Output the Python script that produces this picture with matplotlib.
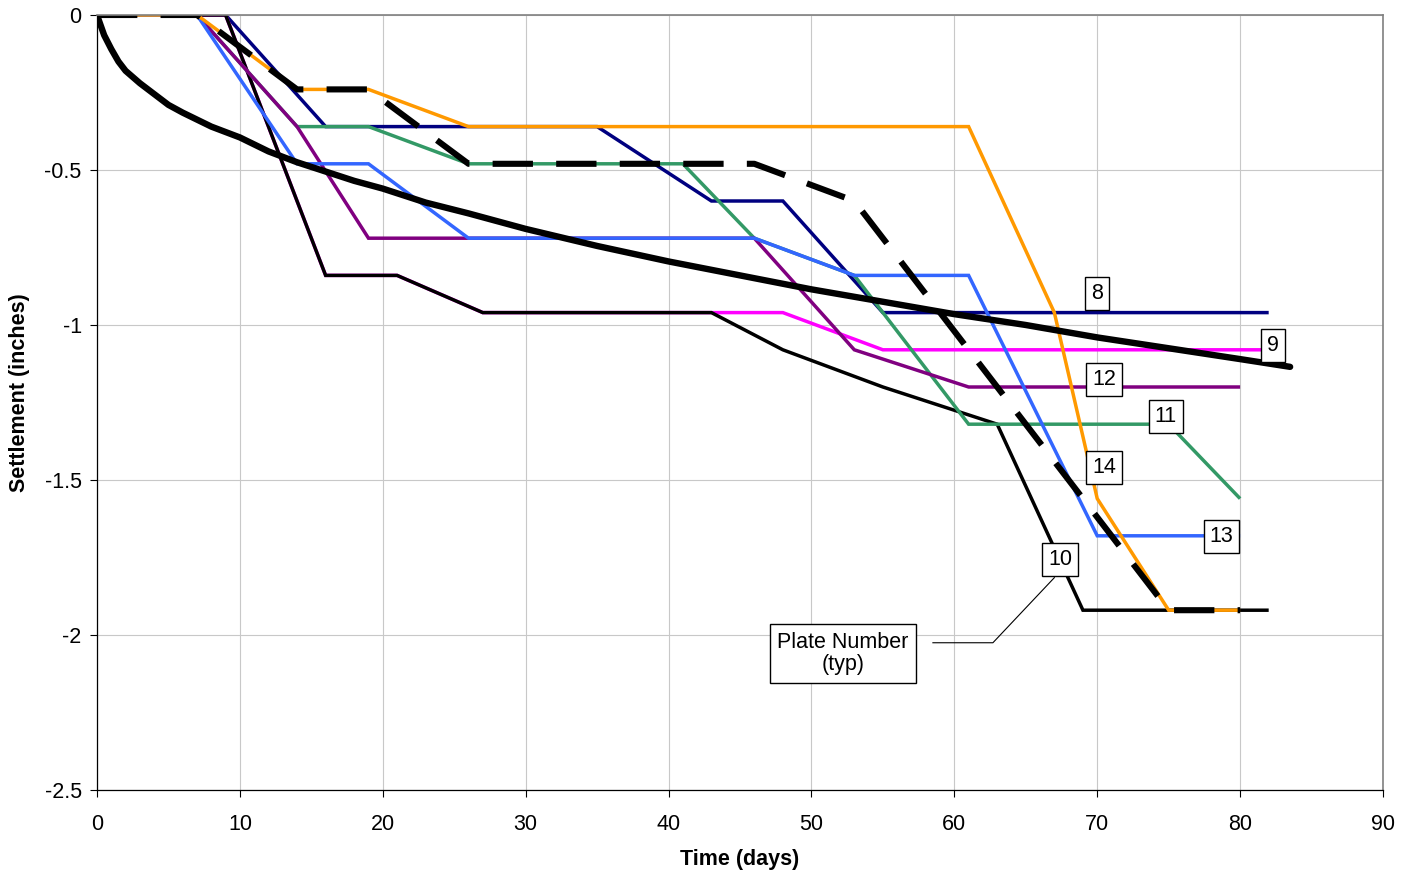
import matplotlib
matplotlib.use("Agg")
import matplotlib.pyplot as plt

# settlement plate readings (inches)
days_8 = [0, 9, 16, 35, 43, 48, 55, 82]
settle_8 = [0, 0, -0.36, -0.36, -0.60, -0.60, -0.96, -0.96]

days_9 = [0, 9, 16, 21, 27, 43, 48, 55, 82]
settle_9 = [0, 0, -0.84, -0.84, -0.96, -0.96, -0.96, -1.08, -1.08]

days_10 = [0, 9, 16, 21, 27, 43, 48, 55, 61, 63, 69, 82]
settle_10 = [0, 0, -0.84, -0.84, -0.96, -0.96, -1.08, -1.20, -1.29, -1.32, -1.92, -1.92]

days_11 = [0, 7, 14, 19, 26, 41, 46, 53, 61, 75, 80]
settle_11 = [0, 0, -0.36, -0.36, -0.48, -0.48, -0.72, -0.84, -1.32, -1.32, -1.56]

days_12 = [0, 7, 14, 19, 46, 53, 61, 80]
settle_12 = [0, 0, -0.36, -0.72, -0.72, -1.08, -1.20, -1.20]

days_13 = [0, 7, 14, 19, 26, 46, 53, 61, 70, 80]
settle_13 = [0, 0, -0.48, -0.48, -0.72, -0.72, -0.84, -0.84, -1.68, -1.68]

days_14 = [0, 7, 14, 19, 26, 61, 67, 70, 75, 80]
settle_14 = [0, 0, -0.24, -0.24, -0.36, -0.36, -0.96, -1.56, -1.92, -1.92]

days_dash = [0, 7, 14, 19, 26, 46, 53, 75, 80]
settle_dash = [0, 0, -0.24, -0.24, -0.48, -0.48, -0.60, -1.92, -1.92]

days_curve = [0, 0.5, 1, 1.5, 2, 3, 4, 5, 6, 8, 10, 12, 14, 16, 18, 20, 23, 26,
              30, 35, 40, 45, 50, 55, 60, 65, 70, 75, 80, 83.5]
settle_curve = [0, -0.065, -0.11, -0.15, -0.18, -0.22, -0.255, -0.29, -0.315,
                -0.36, -0.395, -0.44, -0.475, -0.505, -0.535, -0.56, -0.605,
                -0.64, -0.69, -0.745, -0.795, -0.84, -0.885, -0.925, -0.965,
                -1.0, -1.04, -1.075, -1.11, -1.135]

plate_names = ["8", "9", "10", "11", "12", "13", "14"]
x_ticks = [0, 10, 20, 30, 40, 50, 60, 70, 80, 90]
y_ticks = [0, -0.5, -1, -1.5, -2, -2.5]
y_tick_labels = ["0", "-0.5", "-1", "-1.5", "-2", "-2.5"]


def _main():
    plt.rcParams['font.family'] = ['Liberation Sans', 'DejaVu Sans']
    plt.rcParams['axes.unicode_minus'] = False
    FONT_SIZE = 15.5

    fig = plt.figure(figsize=(14.13, 8.73), dpi=100)
    ax = fig.add_axes([97 / 1413, 83 / 873, 1286 / 1413, 775 / 873])

    plates = [
        (days_8, settle_8, "#000080"),
        (days_9, settle_9, "#FF00FF"),
        (days_10, settle_10, "black"),
        (days_11, settle_11, "#339966"),
        (days_12, settle_12, "#800080"),
        (days_13, settle_13, "#3366FF"),
        (days_14, settle_14, "#FF9900"),
    ]
    for days, settle, color in plates:
        ax.plot(days, settle, color=color, lw=2.5, solid_capstyle='butt',
                solid_joinstyle='miter')

    ax.plot(days_dash, settle_dash, color="black", lw=4.4,
            dashes=(6.6, 3.8), dash_capstyle='butt')
    ax.plot(days_curve, settle_curve, color="black", lw=4.6,
            solid_capstyle='round')

    # plate number tags
    tag_spots = [(70.0, -0.897), (82.3, -1.065), (67.4, -1.755), (74.8, -1.296),
                 (70.5, -1.177), (78.7, -1.683), (70.5, -1.46)]
    box = dict(boxstyle='square,pad=0.28', fc='white', ec='black', lw=1.0)
    for name, (x, y) in zip(plate_names, tag_spots):
        ax.text(x, y, name, ha='center', va='center', fontsize=FONT_SIZE,
                bbox=box, zorder=5)

    ax.plot([58.5, 62.7, 67.0], [-2.025, -2.025, -1.815], color='black',
            lw=0.8, zorder=4)
    ax.text(52.2, -2.06, "Plate Number\n(typ)", ha='center', va='center',
            multialignment='center', fontsize=FONT_SIZE, linespacing=1.1,
            bbox=dict(boxstyle='square,pad=0.35', fc='white', ec='black',
                      lw=1.0), zorder=5)

    ax.set_xlim(0, 90)
    ax.set_ylim(-2.5, 0)
    ax.set_xticks(x_ticks)
    ax.set_yticks(y_ticks)
    ax.set_yticklabels(y_tick_labels)
    ax.tick_params(axis='both', direction='out', length=5, width=0.8,
                   labelsize=FONT_SIZE, color='black')
    ax.tick_params(axis='x', pad=12)
    ax.tick_params(axis='y', pad=6)
    ax.grid(True, color='#c8c8c8', lw=0.8)
    ax.set_axisbelow(True)

    for side in ('top', 'right'):
        ax.spines[side].set_color('#808080')
        ax.spines[side].set_linewidth(1.2)
    for side in ('left', 'bottom'):
        ax.spines[side].set_color('black')
        ax.spines[side].set_linewidth(0.9)

    ax.set_xlabel("Time (days)", fontsize=FONT_SIZE, fontweight='bold')
    ax.set_ylabel("Settlement (inches)", fontsize=FONT_SIZE, fontweight='bold')
    ax.xaxis.set_label_coords(0.5, -0.090)
    ax.xaxis.label.set_verticalalignment('center')
    ax.yaxis.set_label_coords(-0.060, 0.513)
    ax.yaxis.label.set_verticalalignment('center')

    fig.savefig("out.png", dpi=100)


if __name__ == "__main__":
    _main()
